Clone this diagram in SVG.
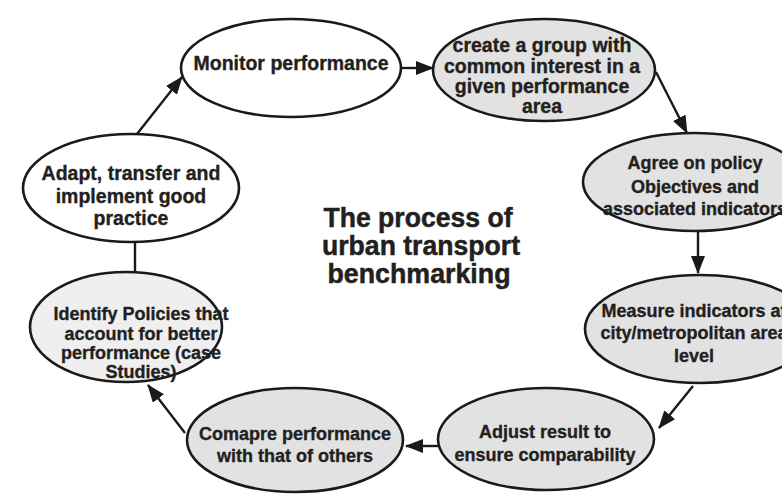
<svg xmlns="http://www.w3.org/2000/svg" width="782" height="495" viewBox="0 0 782 495">
  <style>
    .node { stroke: #1a1a1a; stroke-width: 2.6; }
    .plain { fill: #ffffff; }
    .shaded { fill: #e2e2e2; }
    .pale { fill: #efefef; }
    text { font-family: "Liberation Sans", Arial, sans-serif; font-weight: bold; fill: #231f20; stroke: #231f20; stroke-width: 0.35; text-anchor: middle; }
    .lg { font-size: 19.5px; }
    .md { font-size: 18px; }
    .title { font-size: 27.5px; stroke-width: 0.5; }
    .link { stroke: #1a1a1a; stroke-width: 2.4; fill: none; }
  </style>
  <defs>
    <marker id="head" markerUnits="userSpaceOnUse" markerWidth="18" markerHeight="14" refX="17" refY="7" orient="auto">
      <path d="M0,0 L18,7 L0,14 Z" fill="#1a1a1a"/>
    </marker>
  </defs>
  <rect width="782" height="495" fill="#ffffff"/>

  <!-- connectors -->
  <g id="connectors">
    <line class="link" x1="401" y1="68" x2="433" y2="68" marker-end="url(#head)"/>
    <line class="link" x1="656" y1="72" x2="687" y2="133" marker-end="url(#head)"/>
    <line class="link" x1="698" y1="232" x2="698" y2="273" marker-end="url(#head)"/>
    <line class="link" x1="693" y1="386" x2="659" y2="428" marker-end="url(#head)"/>
    <line class="link" x1="438" y1="446" x2="406" y2="446" marker-end="url(#head)"/>
    <line class="link" x1="185" y1="433" x2="148" y2="385" marker-end="url(#head)"/>
    <line class="link" x1="135" y1="273" x2="135" y2="241"/>
    <line class="link" x1="137" y1="134" x2="182" y2="77" marker-end="url(#head)"/>
  </g>

  <!-- process steps -->
  <g id="monitor">
    <ellipse class="node plain" cx="291" cy="68" rx="110" ry="49"/>
    <text class="lg" x="291" y="70">Monitor performance</text>
  </g>
  <g id="create-group">
    <ellipse class="node shaded" cx="544" cy="70" rx="111" ry="51"/>
    <text class="lg" x="542" y="52">create a group with</text>
    <text class="lg" x="542" y="73">common interest in a</text>
    <text class="lg" x="542" y="93">given performance</text>
    <text class="lg" x="542" y="113">area</text>
  </g>
  <g id="agree-policy">
    <ellipse class="node shaded" cx="694" cy="182" rx="111" ry="49"/>
    <text class="md" x="695" y="169">Agree on policy</text>
    <text class="md" x="695" y="193">Objectives and</text>
    <text class="md" x="695" y="215">associated indicators</text>
  </g>
  <g id="measure">
    <ellipse class="node shaded" cx="700" cy="329" rx="115" ry="54"/>
    <text class="md" x="694" y="317">Measure indicators at</text>
    <text class="md" x="694" y="339">city/metropolitan area</text>
    <text class="md" x="694" y="362">level</text>
  </g>
  <g id="adjust">
    <ellipse class="node shaded" cx="546" cy="439" rx="108" ry="51"/>
    <text class="md" x="545" y="438">Adjust result to</text>
    <text class="md" x="545" y="461">ensure comparability</text>
  </g>
  <g id="compare">
    <ellipse class="node shaded" cx="295" cy="440" rx="108" ry="52"/>
    <text class="md" x="295" y="440">Comapre performance</text>
    <text class="md" x="295" y="462">with that of others</text>
  </g>
  <g id="identify">
    <ellipse class="node pale" cx="126" cy="327" rx="96" ry="55"/>
    <text class="md" x="141" y="320">Identify Policies that</text>
    <text class="md" x="141" y="340">account for better</text>
    <text class="md" x="141" y="359">performance (case</text>
    <text class="md" x="141" y="378">Studies)</text>
  </g>
  <g id="adapt">
    <ellipse class="node plain" cx="131" cy="188" rx="108" ry="54"/>
    <text class="lg" x="131" y="180">Adapt, transfer and</text>
    <text class="lg" x="131" y="203">implement good</text>
    <text class="lg" x="131" y="225">practice</text>
  </g>

  <g id="title">
    <text class="title" x="418" y="227" textLength="189" lengthAdjust="spacingAndGlyphs">The process of</text>
    <text class="title" x="421" y="255" textLength="198" lengthAdjust="spacingAndGlyphs">urban transport</text>
    <text class="title" x="419" y="283" textLength="183" lengthAdjust="spacingAndGlyphs">benchmarking</text>
  </g>
</svg>
